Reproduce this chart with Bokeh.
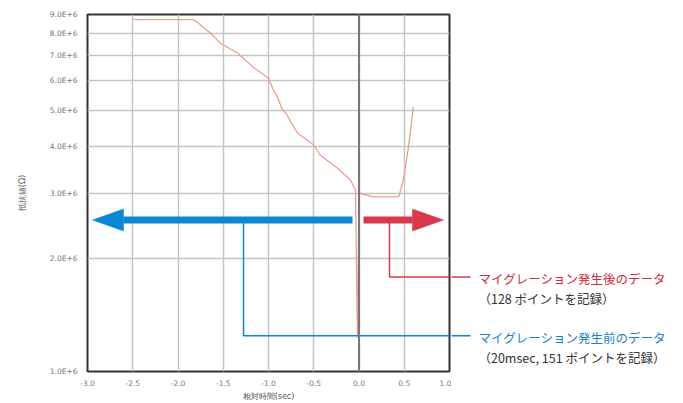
from bokeh.plotting import figure
from bokeh.layouts import row
from bokeh.models import FixedTicker, CustomJSTickFormatter, Span, Label
from bokeh.embed import file_html
from bokeh.resources import INLINE

# ---- data ----
time_sec = [-2.49, -1.84, -1.81, -1.64, -1.53, -1.34, -1.17, -1.00, -0.945, -0.90,
            -0.845, -0.81, -0.68, -0.50, -0.43, -0.24, -0.094, -0.039, -0.017,
            0.00, 0.16, 0.44, 0.49, 0.547, 0.60]
resistance = [8.72e6, 8.72e6, 8.67e6, 8.02e6, 7.54e6, 7.09e6, 6.51e6, 6.08e6, 5.65e6, 5.41e6,
              5.00e6, 4.91e6, 4.34e6, 4.03e6, 3.79e6, 3.50e6, 3.25e6, 3.06e6, 1.23e6,
              3.00e6, 2.93e6, 2.93e6, 3.25e6, 3.98e6, 5.09e6]

x_ticks = [-3.0, -2.5, -2.0, -1.5, -1.0, -0.5, 0.0, 0.5, 1.0]
y_ticks = [1e6, 2e6, 3e6, 4e6, 5e6, 6e6, 7e6, 8e6, 9e6]

x_label = "相対時間(sec)"
y_label = "抵抗値(Ω)"
after_title = "マイグレーション発生後のデータ"
after_note = "（128 ポイントを記録）"
before_title = "マイグレーション発生前のデータ"
before_note = "（20msec, 151 ポイントを記録）"

BLUE = "#0a86d4"
RED = "#d8384a"
LINE = "#eaa08e"
FONT = "Noto Sans CJK JP"

# layout constants (pixels)
H = 403
TOP = 14
BOTTOM_BORDER = 31
LEFT = 87
FRAME_W = 362
GAP = 2
RIGHT_W = 222
PX_PER_X = FRAME_W / 4.0

p = figure(width=LEFT + FRAME_W + GAP, height=H, x_range=(-3, 1), y_range=(1e6, 9e6),
           y_axis_type="log", output_backend="svg", toolbar_location=None,
           min_border_left=LEFT, min_border_right=GAP, min_border_top=TOP,
           min_border_bottom=BOTTOM_BORDER)

p.outline_line_color = "#333333"
p.outline_line_width = 2

for ax in (p.xaxis, p.yaxis):
    ax.axis_line_color = None
    ax.major_tick_line_color = None
    ax.minor_tick_line_color = None
    ax.major_tick_out = 0
    ax.major_tick_in = 0
    ax.minor_tick_out = 0
    ax.minor_tick_in = 0
    ax.major_label_text_font = "DejaVu Sans"
    ax.major_label_text_font_size = "7.5px"
    ax.major_label_text_color = "#777777"
    ax.major_label_text_line_height = 1.0
    ax.axis_label_text_font = "DejaVu Sans"
    ax.axis_label_text_font_size = "8px"
    ax.axis_label_text_font_style = "normal"
    ax.axis_label_text_color = "#555555"
    ax.axis_label_text_line_height = 1.0

p.xaxis.ticker = FixedTicker(ticks=x_ticks)
p.yaxis.ticker = FixedTicker(ticks=y_ticks)
p.xaxis.formatter = CustomJSTickFormatter(code="return tick.toFixed(1);")
p.yaxis.formatter = CustomJSTickFormatter(code="return (tick/1e6).toFixed(1) + 'E+6';")
p.xaxis.major_label_standoff = 8
p.yaxis.major_label_standoff = 10
p.xaxis.axis_label = x_label
p.yaxis.axis_label = y_label
p.xaxis.axis_label_standoff = 3
p.yaxis.axis_label_standoff = 20

p.xgrid.grid_line_color = "#c4c4c4"
p.xgrid.grid_line_width = 1.5
p.ygrid.grid_line_color = "#c4c4c4"
p.ygrid.grid_line_width = 1.5

p.add_layout(Span(location=0.0, dimension="height", line_color="#777777", line_width=2))

p.line(time_sec, resistance, line_color=LINE, line_width=1.3)

# arrows
ya = 2.54e6
hf = 1.07
p.segment(x0=[-2.602], y0=[ya], x1=[-0.072], y1=[ya], line_color=BLUE, line_width=7, line_cap="butt")
p.patch([-2.945, -2.602, -2.602], [ya, ya * hf, ya / hf], fill_color=BLUE, line_color=BLUE, line_width=0.5)
p.segment(x0=[0.05], y0=[ya], x1=[0.591], y1=[ya], line_color=RED, line_width=7, line_cap="butt")
p.patch([0.934, 0.591, 0.591], [ya, ya * hf, ya / hf], fill_color=RED, line_color=RED, line_width=0.5)

y_red = 1.79e6
y_blue = 1.247e6
p.line([0.337, 0.337, 1.0], [ya, y_red, y_red], line_color=RED, line_width=1.5)
p.line([-1.276, -1.276, 1.0], [ya, y_blue, y_blue], line_color=BLUE, line_width=1.5)

# right-hand annotation panel, same data scale as the chart (frames aligned)
x0 = 1.0 + GAP / PX_PER_X
x1 = x0 + RIGHT_W / PX_PER_X
q = figure(width=RIGHT_W, height=H, x_range=(x0, x1), y_range=(1e6, 9e6),
           y_axis_type="log", output_backend="svg", toolbar_location=None,
           min_border_left=0, min_border_right=0,
           min_border_top=TOP, min_border_bottom=BOTTOM_BORDER)
q.axis.visible = False
q.grid.visible = False
q.outline_line_color = None

q.line([x0 - 0.01, 1.232], [y_red, y_red], line_color=RED, line_width=1.5)
q.line([x0 - 0.01, 1.232], [y_blue, y_blue], line_color=BLUE, line_width=1.5)

def lab(txt, y, c):
    q.add_layout(Label(x=1.32, y=y, text=txt, text_font=FONT, text_font_size="12.5px",
                       text_color=c, text_baseline="middle", text_align="left"))

lab(after_title, 1.77e6, "#d02a3c")
lab(after_note, 1.566e6, "#333333")
lab(before_title, 1.232e6, "#1a80cc")
lab(before_note, 1.09e6, "#333333")

layout = row(p, q, spacing=0)
open("out.html", "w").write(file_html(layout, INLINE))
